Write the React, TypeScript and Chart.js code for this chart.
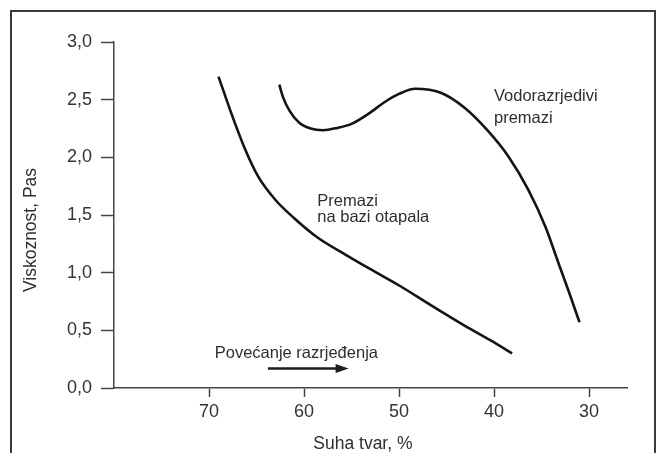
import React, { useEffect, useRef } from "react";
import { Chart, registerables } from "chart.js";

Chart.register(...registerables);

// Solvent-based coatings ("Premazi na bazi otapala")
const solventX = [69.0, 67.6, 66.2, 64.8, 63.0, 61.0, 58.5, 55.6, 53.0, 49.8, 46.7, 43.5, 40.3, 38.1];
const solventY = [2.70, 2.37, 2.07, 1.83, 1.63, 1.47, 1.30, 1.155, 1.03, 0.88, 0.72, 0.56, 0.41, 0.30];

// Water-borne coatings ("Vodorazrjedivi premazi")
const waterX = [62.6, 62.2, 61.5, 60.5, 59.3, 58.0, 56.5, 55.0, 53.0, 51.5, 50.0, 48.3, 45.6, 43.1, 40.75, 38.5, 36.4, 34.6, 33.2, 32.1, 31.0];
const waterY = [2.63, 2.52, 2.40, 2.30, 2.25, 2.235, 2.255, 2.29, 2.39, 2.48, 2.55, 2.595, 2.56, 2.43, 2.24, 2.01, 1.72, 1.40, 1.08, 0.83, 0.57];

const xTicks = [70, 60, 50, 40, 30];
const yTickStep = 0.5;

const xTitle = "Suha tvar, %";
const yTitle = "Viskoznost, Pas";
const waterLabel = ["Vodorazrjedivi", "premazi"];
const solventLabel = ["Premazi", "na bazi otapala"];
const arrowLabel = "Povećanje razrjeđenja";

const FONT = "'Liberation Sans', Arial, Helvetica, sans-serif";

const annotationPlugin = {
  id: "annotations",
  afterDraw(chart: any) {
    const { ctx, chartArea } = chart;
    const xs = chart.scales.x;
    const ys = chart.scales.y;
    const px = (v: number) => xs.getPixelForValue(v);
    const py = (v: number) => ys.getPixelForValue(v);
    ctx.save();
    ctx.fillStyle = "#2e2e2e";
    ctx.font = `16.5px ${FONT}`;
    ctx.textAlign = "left";
    ctx.textBaseline = "alphabetic";
    ctx.fillText(waterLabel[0], px(40.0), py(2.487));
    ctx.fillText(waterLabel[1], px(40.0), py(2.30));
    ctx.fillText(solventLabel[0], px(58.6), py(1.574));
    ctx.fillText(solventLabel[1], px(58.6), py(1.435));
    ctx.fillText(arrowLabel, px(69.4), py(0.26));

    // arrow
    const ax0 = px(63.8);
    const ax1 = px(55.3);
    const ay = py(0.17);
    ctx.strokeStyle = "#1e1e1e";
    ctx.fillStyle = "#1e1e1e";
    ctx.lineWidth = 2.5;
    ctx.beginPath();
    ctx.moveTo(ax0, ay);
    ctx.lineTo(ax1 - 10, ay);
    ctx.stroke();
    ctx.beginPath();
    ctx.moveTo(ax1, ay);
    ctx.lineTo(ax1 - 13, ay - 4.5);
    ctx.lineTo(ax1 - 13, ay + 4.5);
    ctx.closePath();
    ctx.fill();

    // axis titles
    ctx.fillStyle = "#2e2e2e";
    ctx.font = `17.5px ${FONT}`;
    ctx.textAlign = "center";
    ctx.textBaseline = "middle";
    ctx.fillText(xTitle, px(53.8), chart.height - 9);
    ctx.translate(chartArea.left - 83, (chartArea.top + chartArea.bottom) / 2 + 15);
    ctx.rotate(-Math.PI / 2);
    ctx.fillText(yTitle, 0, 0);
    ctx.restore();
  },
};

export default function App() {
  const ref = useRef<HTMLCanvasElement>(null);
  useEffect(() => {
    if (!ref.current) return;
    const toPts = (xs: number[], ys: number[]) => xs.map((x, i) => ({ x, y: ys[i] }));
    const lineStyle = {
      borderColor: "#141414",
      borderWidth: 2.6,
      pointRadius: 0,
      cubicInterpolationMode: "monotone" as const,
      fill: false,
    };
    const chart = new Chart(ref.current, {
      type: "line",
      data: {
        datasets: [
          { label: "Premazi na bazi otapala", data: toPts(solventX, solventY), ...lineStyle },
          { label: "Vodorazrjedivi premazi", data: toPts(waterX, waterY), ...lineStyle },
        ],
      },
      options: {
        animation: false,
        responsive: false,
        maintainAspectRatio: false,
        layout: { padding: { top: 42, right: 35, bottom: 0, left: 0 } },
        plugins: {
          legend: { display: false },
          tooltip: { enabled: false },
          title: { display: false },
        },
        scales: {
          x: {
            type: "linear",
            reverse: true,
            min: 26,
            max: 80,
            afterBuildTicks: (scale: any) => {
              scale.ticks = xTicks.map((v) => ({ value: v }));
            },
            afterFit: (scale: any) => {
              scale.height = 65;
            },
            grid: {
              display: true,
              drawOnChartArea: false,
              drawTicks: true,
              tickLength: 9,
              tickColor: "#444",
              tickWidth: 1.5,
            },
            border: { display: true, color: "#444", width: 1.5 },
            ticks: {
              color: "#333",
              padding: 4,
              maxRotation: 0,
              font: { family: FONT, size: 18 },
            },
          },
          y: {
            type: "linear",
            min: 0,
            max: 3,
            afterFit: (scale: any) => {
              scale.width = 114;
            },
            grid: {
              display: true,
              drawOnChartArea: false,
              drawTicks: true,
              tickLength: 13,
              tickColor: "#444",
              tickWidth: 1.5,
            },
            border: { display: true, color: "#444", width: 1.5 },
            ticks: {
              stepSize: yTickStep,
              color: "#333",
              padding: 9,
              font: { family: FONT, size: 18 },
              callback: (v: any) => Number(v).toFixed(1).replace(".", ","),
            },
          },
        },
      },
      plugins: [annotationPlugin],
    });
    return () => chart.destroy();
  }, []);

  return (
    <div style={{ position: "absolute", left: 0, top: 0, width: 662, height: 453, background: "#fff", overflow: "hidden" }}>
      <div
        style={{
          position: "absolute",
          left: 10,
          top: 10,
          width: 646,
          height: 470,
          border: "2px solid #3a3a3a",
          boxSizing: "border-box",
        }}
      />
      <canvas ref={ref} width={662} height={453} style={{ position: "absolute", left: 0, top: 0, width: 662, height: 453 }} />
    </div>
  );
}
